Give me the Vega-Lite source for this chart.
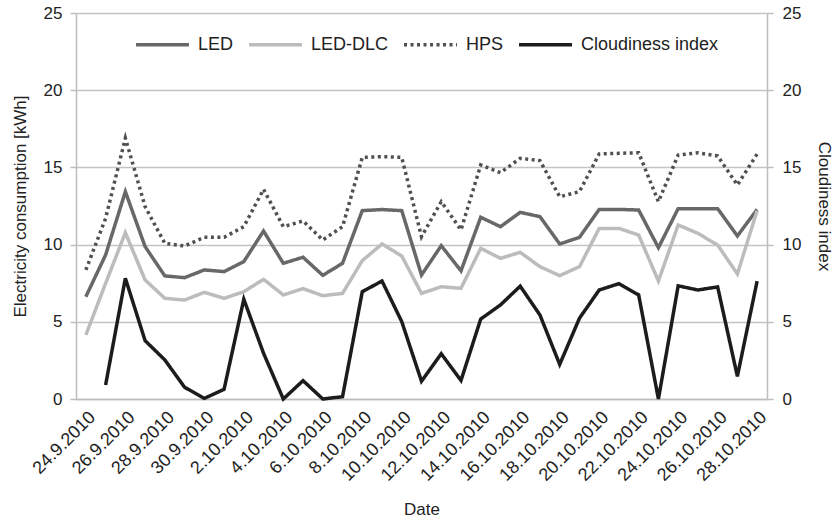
{
  "$schema": "https://vega.github.io/schema/vega-lite/v6.json",
  "width": 691,
  "height": 386,
  "autosize": "none",
  "padding": {"left": 76, "top": 13, "right": 68, "bottom": 126},
  "background": "white",
  "config": {
    "font": "Liberation Sans",
    "view": {"stroke": null},
    "axis": {"labelColor": "#222", "titleColor": "#222", "titleFontWeight": "normal", "labelFontSize": 17, "titleFontSize": 17, "domainColor": "#bdbdbd", "domainWidth": 1.5, "tickColor": "#bdbdbd", "tickWidth": 1.5, "gridColor": "#c4c4c4", "gridWidth": 1.5}
  },
  "data": {"values": [
    {"d": "24.9.2010", "LED": 6.63, "LED-DLC": 4.15, "HPS": 8.36, "Cloudiness index": null},
    {"d": "25.9.2010", "LED": 9.33, "LED-DLC": 7.49, "HPS": 11.7, "Cloudiness index": 0.91},
    {"d": "26.9.2010", "LED": 13.43, "LED-DLC": 10.77, "HPS": 16.9, "Cloudiness index": 7.82},
    {"d": "27.9.2010", "LED": 9.87, "LED-DLC": 7.71, "HPS": 12.46, "Cloudiness index": 3.78},
    {"d": "28.9.2010", "LED": 7.97, "LED-DLC": 6.52, "HPS": 10.08, "Cloudiness index": 2.53},
    {"d": "29.9.2010", "LED": 7.86, "LED-DLC": 6.41, "HPS": 9.91, "Cloudiness index": 0.76},
    {"d": "30.9.2010", "LED": 8.36, "LED-DLC": 6.91, "HPS": 10.47, "Cloudiness index": 0.04},
    {"d": "1.10.2010", "LED": 8.25, "LED-DLC": 6.52, "HPS": 10.47, "Cloudiness index": 0.63},
    {"d": "2.10.2010", "LED": 8.9, "LED-DLC": 6.95, "HPS": 11.16, "Cloudiness index": 6.46},
    {"d": "3.10.2010", "LED": 10.88, "LED-DLC": 7.75, "HPS": 13.58, "Cloudiness index": 2.96},
    {"d": "4.10.2010", "LED": 8.79, "LED-DLC": 6.74, "HPS": 11.16, "Cloudiness index": 0.0},
    {"d": "5.10.2010", "LED": 9.18, "LED-DLC": 7.15, "HPS": 11.53, "Cloudiness index": 1.19},
    {"d": "6.10.2010", "LED": 8.01, "LED-DLC": 6.69, "HPS": 10.3, "Cloudiness index": 0.0},
    {"d": "7.10.2010", "LED": 8.79, "LED-DLC": 6.84, "HPS": 11.16, "Cloudiness index": 0.15},
    {"d": "8.10.2010", "LED": 12.2, "LED-DLC": 8.96, "HPS": 15.65, "Cloudiness index": 6.95},
    {"d": "9.10.2010", "LED": 12.27, "LED-DLC": 10.04, "HPS": 15.7, "Cloudiness index": 7.64},
    {"d": "10.10.2010", "LED": 12.2, "LED-DLC": 9.26, "HPS": 15.65, "Cloudiness index": 5.01},
    {"d": "11.10.2010", "LED": 8.03, "LED-DLC": 6.84, "HPS": 10.51, "Cloudiness index": 1.15},
    {"d": "12.10.2010", "LED": 9.93, "LED-DLC": 7.27, "HPS": 12.78, "Cloudiness index": 2.93},
    {"d": "13.10.2010", "LED": 8.3, "LED-DLC": 7.17, "HPS": 10.95, "Cloudiness index": 1.2},
    {"d": "14.10.2010", "LED": 11.77, "LED-DLC": 9.76, "HPS": 15.16, "Cloudiness index": 5.18},
    {"d": "15.10.2010", "LED": 11.16, "LED-DLC": 9.11, "HPS": 14.66, "Cloudiness index": 6.09},
    {"d": "16.10.2010", "LED": 12.09, "LED-DLC": 9.5, "HPS": 15.59, "Cloudiness index": 7.31},
    {"d": "17.10.2010", "LED": 11.81, "LED-DLC": 8.57, "HPS": 15.44, "Cloudiness index": 5.44},
    {"d": "18.10.2010", "LED": 10.04, "LED-DLC": 7.99, "HPS": 13.1, "Cloudiness index": 2.24},
    {"d": "19.10.2010", "LED": 10.47, "LED-DLC": 8.57, "HPS": 13.43, "Cloudiness index": 5.23},
    {"d": "20.10.2010", "LED": 12.28, "LED-DLC": 11.05, "HPS": 15.87, "Cloudiness index": 7.06},
    {"d": "21.10.2010", "LED": 12.28, "LED-DLC": 11.05, "HPS": 15.91, "Cloudiness index": 7.47},
    {"d": "22.10.2010", "LED": 12.24, "LED-DLC": 10.62, "HPS": 15.95, "Cloudiness index": 6.74},
    {"d": "23.10.2010", "LED": 9.8, "LED-DLC": 7.64, "HPS": 12.78, "Cloudiness index": 0.0},
    {"d": "24.10.2010", "LED": 12.33, "LED-DLC": 11.27, "HPS": 15.8, "Cloudiness index": 7.33},
    {"d": "25.10.2010", "LED": 12.33, "LED-DLC": 10.73, "HPS": 15.95, "Cloudiness index": 7.06},
    {"d": "26.10.2010", "LED": 12.33, "LED-DLC": 9.97, "HPS": 15.74, "Cloudiness index": 7.26},
    {"d": "27.10.2010", "LED": 10.56, "LED-DLC": 8.1, "HPS": 13.86, "Cloudiness index": 1.47},
    {"d": "28.10.2010", "LED": 12.28, "LED-DLC": 12.2, "HPS": 15.87, "Cloudiness index": 7.64}
  ]},
  "transform": [
    {"fold": ["LED", "LED-DLC", "HPS", "Cloudiness index"], "as": ["s", "v"]}
  ],
  "encoding": {
    "x": {
      "field": "d", "type": "ordinal", "sort": null,
      "scale": {"type": "point", "padding": 0.5},
      "axis": {
        "title": "Date", "titlePadding": 17, "labelFontSize": 18,
        "values": ["24.9.2010", "26.9.2010", "28.9.2010", "30.9.2010", "2.10.2010", "4.10.2010", "6.10.2010", "8.10.2010", "10.10.2010", "12.10.2010", "14.10.2010", "16.10.2010", "18.10.2010", "20.10.2010", "22.10.2010", "24.10.2010", "26.10.2010", "28.10.2010"],
        "labelAngle": -45, "ticks": false, "labelPadding": 9, "grid": false
      }
    },
    "color": {
      "field": "s", "type": "nominal", "title": null,
      "scale": {"domain": ["LED", "LED-DLC", "HPS", "Cloudiness index"], "range": ["#686868", "#bcbcbc", "#505050", "#1c1c1c"]},
      "legend": {
        "orient": "none", "legendX": 58, "legendY": 3, "direction": "horizontal",
        "symbolType": "stroke", "symbolSize": 2800, "symbolStrokeWidth": 3.5,
        "labelFontSize": 18, "labelColor": "#222", "labelOffset": 7, "columnPadding": 8
      }
    },
    "strokeDash": {
      "field": "s", "type": "nominal", "title": null,
      "scale": {"domain": ["LED", "LED-DLC", "HPS", "Cloudiness index"], "range": [[1, 0], [1, 0], [3, 3.5], [1, 0]]}
    }
  },
  "layer": [
    {
      "transform": [{"filter": "datum.s !== 'Cloudiness index'"}],
      "mark": {"type": "line", "strokeWidth": 3.5},
      "encoding": {
        "y": {
          "field": "v", "type": "quantitative",
          "scale": {"domain": [0, 25], "nice": false},
          "axis": {"title": "Electricity consumption [kWh]", "values": [0, 5, 10, 15, 20, 25], "tickSize": 6, "labelPadding": 8, "titlePadding": 14}
        }
      }
    },
    {
      "transform": [{"filter": "datum.s === 'Cloudiness index'"}],
      "mark": {"type": "line", "strokeWidth": 3.5},
      "encoding": {
        "y": {
          "field": "v", "type": "quantitative",
          "scale": {"domain": [0, 25], "nice": false},
          "axis": {"orient": "right", "title": "Cloudiness index", "values": [0, 5, 10, 15, 20, 25], "grid": false, "tickSize": 6, "labelPadding": 9, "titlePadding": 14}
        }
      }
    }
  ],
  "resolve": {"scale": {"y": "independent"}}
}
